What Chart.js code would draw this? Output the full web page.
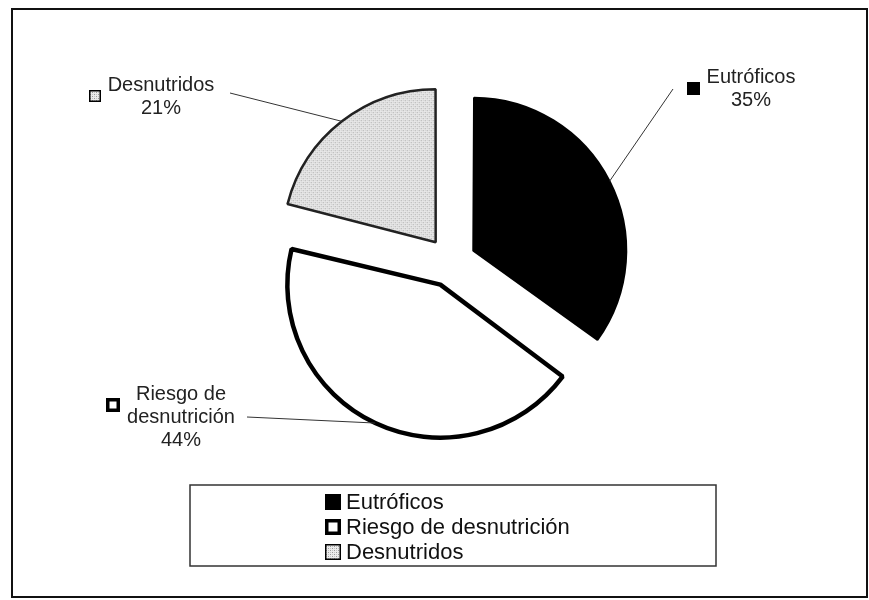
<!DOCTYPE html>
<html>
<head>
<meta charset="utf-8">
<script src="https://cdn.jsdelivr.net/npm/chart.js@4"></script>
<style>
  html, body { margin: 0; padding: 0; background: #fff; }
  #wrap { width: 869px; height: 600px; position: relative; }
</style>
</head>
<body>
<div id="wrap"><canvas id="pie_canvas" width="869" height="600"></canvas></div>
<script>
// data
const categories = ['Eutróficos', 'Riesgo de desnutrición', 'Desnutridos'];
const labelLines = [['Eutróficos'], ['Riesgo de', 'desnutrición'], ['Desnutridos']];
const percents = [35, 44, 21];

const FONT = '"Liberation Sans", Arial, sans-serif';
const RADIUS = 153;

// dotted grey fill for the "Desnutridos" slice
function makeDots() {
  const c = document.createElement('canvas');
  c.width = 4; c.height = 4;
  const g = c.getContext('2d');
  g.fillStyle = '#ececec';
  g.fillRect(0, 0, 4, 4);
  g.fillStyle = '#9a9a9a';
  g.fillRect(0, 0, 1, 1);
  g.fillRect(2, 2, 1, 1);
  g.fillStyle = '#c4c4c4';
  g.fillRect(2, 0, 1, 1);
  g.fillRect(0, 2, 1, 1);
  return g.createPattern(c, 'repeat');
}
const dots = makeDots();
const fills = ['#000000', '#ffffff', dots];

// outside label placement: text centre / first line, leader start, marker
const labelPos = [
  { tx: 751, ty: 77, lx: 673, ly: 89, mx: 687, my: 82, ms: 13 },
  { tx: 181, ty: 394, lx: 247, ly: 417, mx: 106, my: 398, ms: 14 },
  { tx: 161, ty: 85, lx: 230, ly: 93, mx: 89, my: 90, ms: 12 }
];

// chart.js grows the radius of exploded arcs by offset*(1-sin(circ)); undo that
const sameRadius = {
  id: 'sameRadius',
  afterDatasetUpdate(chart) {
    chart.getDatasetMeta(0).data.forEach(arc => {
      const off = (arc.options.offset || 0) / 4;
      const fix = 1 - Math.sin(Math.min(Math.PI, arc.circumference));
      arc.outerRadius = RADIUS - off * fix;
    });
  }
};

const extras = {
  id: 'extras',
  afterDraw(chart) {
    const c = chart.ctx;
    const meta = chart.getDatasetMeta(0);
    c.save();

    // outer frame
    c.strokeStyle = '#111';
    c.lineWidth = 2;
    c.strokeRect(12, 9, 855, 588);

    // leader lines + labels
    meta.data.forEach((arc, i) => {
      const p = arc.getProps(['x', 'y', 'startAngle', 'endAngle']);
      const mid = (p.startAngle + p.endAngle) / 2;
      const r = RADIUS + arc.options.offset / 4;
      const ex = p.x + Math.cos(mid) * r;
      const ey = p.y + Math.sin(mid) * r;
      const L = labelPos[i];
      c.strokeStyle = '#333';
      c.lineWidth = 1;
      c.beginPath();
      c.moveTo(L.lx, L.ly);
      c.lineTo(ex, ey);
      c.stroke();

      drawMarker(c, i, L.mx, L.my, L.ms);

      c.fillStyle = '#222';
      c.font = '20px ' + FONT;
      c.textAlign = 'center';
      c.textBaseline = 'middle';
      const lines = labelLines[i].concat([percents[i] + '%']);
      lines.forEach((t, k) => c.fillText(t, L.tx, L.ty + k * 23));
    });

    // legend box
    c.strokeStyle = '#333';
    c.lineWidth = 1.5;
    c.strokeRect(190, 485, 526, 81);
    c.font = '22px ' + FONT;
    c.textAlign = 'left';
    c.textBaseline = 'middle';
    categories.forEach((name, i) => {
      const y = 502 + i * 25;
      drawMarker(c, i, 325, y - 8, 16);
      c.fillStyle = '#111';
      c.fillText(name, 346, y + 1);
    });
    c.restore();
  }
};

function drawMarker(c, i, x, y, s) {
  c.save();
  c.fillStyle = fills[i];
  c.fillRect(x, y, s, s);
  c.strokeStyle = '#000';
  c.lineWidth = i === 1 ? 3.5 : 1.5;
  const h = c.lineWidth / 2;
  c.strokeRect(x + h, y + h, s - 2 * h, s - 2 * h);
  c.restore();
}

const ctx = document.getElementById('pie_canvas');
new Chart(ctx, {
  type: 'pie',
  data: {
    labels: categories,
    datasets: [{
      data: percents,
      backgroundColor: fills,
      borderColor: ['#000', '#000', '#222'],
      borderWidth: [2, 4.5, 2.5],
      offset: [100, 100, 100], // arc draws offset/4 px
      radius: RADIUS
    }]
  },
  options: {
    responsive: false,
    animation: false,
    layout: { padding: { left: 133, right: 100, top: 50, bottom: 126 } },
    plugins: {
      legend: { display: false },
      tooltip: { enabled: false }
    }
  },
  plugins: [sameRadius, extras]
});
</script>
</body>
</html>
